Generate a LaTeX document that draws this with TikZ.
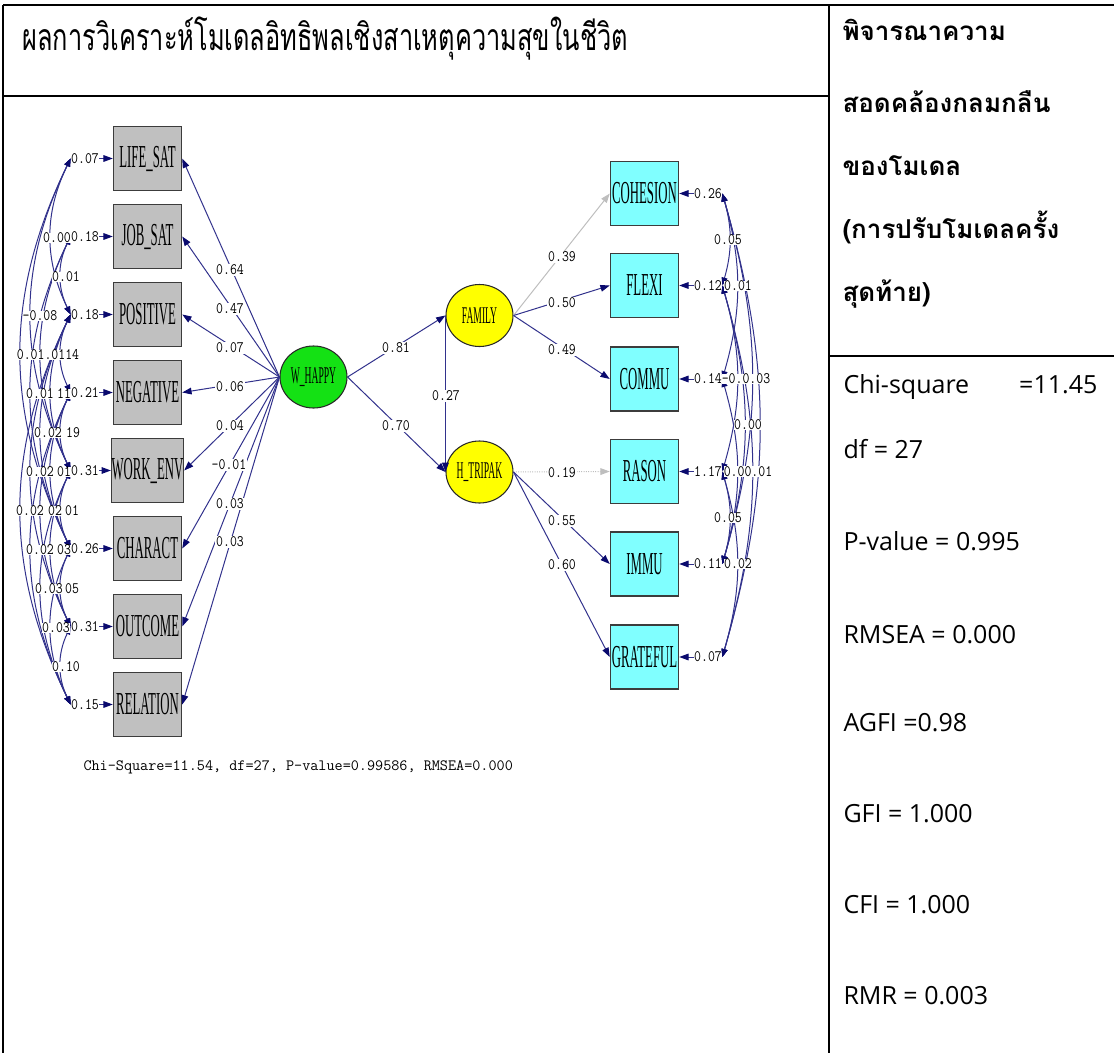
\documentclass[tikz,border=0pt]{standalone}
\usepackage{fontspec}
\usepackage{graphicx}
\usetikzlibrary{arrows.meta,shapes.geometric}
\newfontfamily\thaifont[Script=Thai]{Loma}
\newfontfamily\statfont{Open Sans}
\newfontfamily\boxfont{Liberation Serif}
\newcommand{\squeeze}[1]{\scalebox{0.4}[1]{#1}}
\newcommand{\nsq}[1]{\scalebox{0.84}[1]{#1}}

\tikzset{every picture/.style={line width=0.75pt}}
\tikzset{
  tabline/.style={line width=1.5pt},
  obsgray/.style={draw={rgb,255:red,60;green,60;blue,60}, line width=1.1pt, fill={rgb,255:red,192;green,192;blue,192}, minimum width=51pt, minimum height=48pt, inner sep=0pt, font=\boxfont\fontsize{24}{24}\selectfont},
  obscyan/.style={obsgray, fill={rgb,255:red,128;green,255;blue,255}},
  latent/.style={ellipse, draw={rgb,255:red,40;green,40;blue,40}, line width=0.8pt, minimum width=50.25pt, minimum height=46.5pt, inner sep=0pt, font=\boxfont\fontsize{18}{18}\selectfont},
  load/.style={draw={rgb,255:red,50;green,50;blue,140}, -{Triangle[length=7pt,width=5pt,color={rgb,255:red,10;green,10;blue,110}]}},
  loadgray/.style={draw={rgb,255:red,190;green,190;blue,190}, -{Triangle[length=7pt,width=5pt]}},
  cov/.style={draw={rgb,255:red,50;green,50;blue,140}, {Triangle[length=6pt,width=4.5pt,color={rgb,255:red,10;green,10;blue,110}]}-{Triangle[length=6pt,width=4.5pt,color={rgb,255:red,10;green,10;blue,110}]}},
  errl/.style={font=\ttfamily\fontsize{12}{12}\selectfont, inner sep=0pt},
  coef/.style={font=\ttfamily\fontsize{12}{12}\selectfont, fill=white, inner sep=0.5pt},
  covl/.style={font=\ttfamily\fontsize{12}{12}\selectfont, fill=white, inner sep=0pt},
  hdr/.style={anchor=base west, font=\thaifont\bfseries\fontsize{19.5}{19.5}\selectfont, inner sep=0pt},
  stat/.style={anchor=base west, font=\statfont\fontsize{18.75}{18.75}\selectfont, inner sep=0pt}
}

\begin{document}
\begin{tikzpicture}[x=0.75pt,y=0.75pt,yscale=-1,xscale=1]
\useasboundingbox (0,0) rectangle (1114,1053);

%Table frame
\draw[tabline] (3,5) -- (1114,5) ;
\draw[tabline] (3,5) -- (3,1053) ;
\draw[tabline] (3,96) -- (829,96) ;
\draw[tabline] (829,5) -- (829,1053) ;
\draw[tabline] (829,356) -- (1114,356) ;

% Text Node
\node[anchor=base west, inner sep=0pt, font=\thaifont\fontsize{28}{28}\selectfont] (title) at (22,50) {\scalebox{0.68}[1]{ผลการวิเคราะห์โมเดลอิทธิพลเชิงสาเหตุความสุขในชีวิต}};

% Text Node
\node[hdr] (h1) at (842,40) {พิจารณาความ};
\node[hdr] (h2) at (842,112) {สอดคล้องกลมกลืน};
\node[hdr] (h3) at (842,175) {ของโมเดล};
\node[hdr] (h4) at (842,238) {(การปรับโมเดลครั้ง};
\node[hdr] (h5) at (842,301) {สุดท้าย)};

% Text Node
\node[stat] (s1) at (843,393) {Chi-square\hspace{2em}=11.45};
\node[stat] (s2) at (843,458) {df = 27};
\node[stat] (s3) at (843,550) {P-value = 0.995};
\node[stat] (s4) at (843,643) {RMSEA = 0.000};
\node[stat] (s5) at (843,731) {AGFI =0.98};
\node[stat] (s6) at (843,822) {GFI = 1.000};
\node[stat] (s7) at (843,913) {CFI = 1.000};
\node[stat] (s8) at (843,1004) {RMR = 0.003};

%Shape: Rectangle
\node[obsgray] (LIFE) at (147.5,158.5) {\squeeze{LIFE\_SAT}};
\node[obsgray] (JOB) at (147.5,236.5) {\squeeze{JOB\_SAT}};
\node[obsgray] (POS) at (147.5,314.5) {\squeeze{POSITIVE}};
\node[obsgray] (NEG) at (147.5,392.5) {\squeeze{NEGATIVE}};
\node[obsgray] (WORK) at (147.5,470.5) {\squeeze{WORK\_ENV}};
\node[obsgray] (CHAR) at (147.5,548.5) {\squeeze{CHARACT}};
\node[obsgray] (OUT) at (147.5,626.5) {\squeeze{OUTCOME}};
\node[obsgray] (REL) at (147.5,704.5) {\squeeze{RELATION}};

%Shape: Rectangle
\node[obscyan] (COH) at (644.5,193.5) {\squeeze{COHESION}};
\node[obscyan] (FLEX) at (644.5,285.5) {\squeeze{FLEXI}};
\node[obscyan] (COMM) at (644.5,379) {\squeeze{COMMU}};
\node[obscyan] (RAS) at (644.5,471.5) {\squeeze{RASON}};
\node[obscyan] (IMM) at (644.5,564) {\squeeze{IMMU}};
\node[obscyan] (GRAT) at (644.5,657) {\squeeze{GRATEFUL}};

%Shape: Ellipse
\node[latent, fill={rgb,255:red,20;green,225;blue,20}] (WH) at (313.5,377) {\squeeze{W\_HAPPY}};
\node[latent, fill={rgb,255:red,255;green,255;blue,0}] (FAM) at (479.5,315.5) {\squeeze{FAMILY}};
\node[latent, fill={rgb,255:red,255;green,255;blue,0}] (HT) at (479.5,472) {\squeeze{H\_TRIPAK}};

% Error terms
\node[errl] (uL1) at (85,158.5) {\nsq{0.07}};
\node[errl] (uL2) at (85,236.5) {\nsq{0.18}};
\node[errl] (uL3) at (85,314.5) {\nsq{0.18}};
\node[errl] (uL4) at (85,392.5) {\nsq{0.21}};
\node[errl] (uL5) at (85,470.5) {\nsq{0.31}};
\node[errl] (uL6) at (85,548.5) {\nsq{0.26}};
\node[errl] (uL7) at (85,626.5) {\nsq{0.31}};
\node[errl] (uL8) at (85,704.5) {\nsq{0.15}};
\node[errl] (uR1) at (708,193.5) {\nsq{0.26}};
\node[errl] (uR2) at (708,285.5) {\nsq{0.12}};
\node[errl] (uR3) at (708,379) {\nsq{0.14}};
\node[errl] (uR4) at (708,471.5) {\nsq{1.17}};
\node[errl] (uR5) at (708,564) {\nsq{0.11}};
\node[errl] (uR6) at (708,657) {\nsq{0.07}};

\draw[load] (uL1.east) -- (LIFE.west) ;
\draw[load] (uL2.east) -- (JOB.west) ;
\draw[load] (uL3.east) -- (POS.west) ;
\draw[load] (uL4.east) -- (NEG.west) ;
\draw[load] (uL5.east) -- (WORK.west) ;
\draw[load] (uL6.east) -- (CHAR.west) ;
\draw[load] (uL7.east) -- (OUT.west) ;
\draw[load] (uL8.east) -- (REL.west) ;
\draw[load] (uR1.west) -- (COH.east) ;
\draw[load] (uR2.west) -- (FLEX.east) ;
\draw[load] (uR3.west) -- (COMM.east) ;
\draw[load] (uR4.west) -- (RAS.east) ;
\draw[load] (uR5.west) -- (IMM.east) ;
\draw[load] (uR6.west) -- (GRAT.east) ;

%Covariances, left
\draw[cov] (uL1.west) to[bend left=26] (uL3.west) ;
\draw[cov] (uL2.west) to[bend left=26] (uL3.west) ;
\draw[cov] (uL1.west) to[bend left=26] (uL5.west) ;
\draw[cov] (uL1.west) to[bend left=26] (uL6.west) ;
\draw[cov] (uL2.west) to[bend left=26] (uL5.west) ;
\draw[cov] (uL3.west) to[bend left=26] (uL4.west) ;
\draw[cov] (uL2.west) to[bend left=26] (uL6.west) ;
\draw[cov] (uL3.west) to[bend left=26] (uL5.west) ;
\draw[cov] (uL3.west) to[bend left=26] (uL6.west) ;
\draw[cov] (uL4.west) to[bend left=26] (uL5.west) ;
\draw[cov] (uL3.west) to[bend left=26] (uL7.west) ;
\draw[cov] (uL4.west) to[bend left=26] (uL6.west) ;
\draw[cov] (uL3.west) to[bend left=26] (uL8.west) ;
\draw[cov] (uL4.west) to[bend left=26] (uL7.west) ;
\draw[cov] (uL5.west) to[bend left=26] (uL6.west) ;
\draw[cov] (uL4.west) to[bend left=26] (uL8.west) ;
\draw[cov] (uL5.west) to[bend left=26] (uL7.west) ;
\draw[cov] (uL5.west) to[bend left=26] (uL8.west) ;
\draw[cov] (uL6.west) to[bend left=26] (uL7.west) ;
\draw[cov] (uL6.west) to[bend left=26] (uL8.west) ;
\draw[cov] (uL7.west) to[bend left=26] (uL8.west) ;

%Covariances, right
\draw[cov] (uR1.east) to[bend right=16] (uR2.east) ;
\draw[cov] (uR1.east) to[bend right=16] (uR3.east) ;
\draw[cov] (uR2.east) to[bend right=16] (uR4.east) ;
\draw[cov] (uR1.east) to[bend right=16] (uR5.east) ;
\draw[cov] (uR2.east) to[bend right=16] (uR5.east) ;
\draw[cov] (uR1.east) to[bend right=16] (uR6.east) ;
\draw[cov] (uR3.east) to[bend right=16] (uR5.east) ;
\draw[cov] (uR2.east) to[bend right=16] (uR6.east) ;
\draw[cov] (uR4.east) to[bend right=16] (uR5.east) ;
\draw[cov] (uR4.east) to[bend right=16] (uR6.east) ;

% Text Node
\node[covl] (kL1) at (57,238) {\nsq{0.00}};
\node[covl] (kL2) at (66,277) {\nsq{0.01}};
\node[covl] (kL3) at (40,316) {\nsq{-0.08}};
\node[covl] (kL4) at (48,355) {\nsq{0.01.0114}};
\node[covl] (kL5) at (40,394) {\nsq{0.01}};
\node[covl] (kL6) at (64,394) {\nsq{11}};
\node[covl] (kL7) at (48,433) {\nsq{0.02}};
\node[covl] (kL8) at (73,433) {\nsq{19}};
\node[covl] (kL9) at (40,472) {\nsq{0.02}};
\node[covl] (kL10) at (64,472) {\nsq{01}};
\node[covl] (kL11) at (30,511) {\nsq{0.02}};
\node[covl] (kL12) at (55,511) {\nsq{02}};
\node[covl] (kL13) at (72,511) {\nsq{01}};
\node[covl] (kL14) at (40,550) {\nsq{0.02}};
\node[covl] (kL15) at (64,550) {\nsq{03}};
\node[covl] (kL16) at (49,589) {\nsq{0.03}};
\node[covl] (kL17) at (72,589) {\nsq{05}};
\node[covl] (kL18) at (56,628) {\nsq{0.03}};
\node[covl] (kL19) at (66,667) {\nsq{0.10}};

% Text Node
\node[covl] (kR1) at (728,240) {\nsq{0.05}};
\node[covl] (kR2) at (738,286) {\nsq{0.01}};
\node[covl] (kR3) at (746,379) {\nsq{-0.0.03}};
\node[covl] (kR4) at (748,425) {\nsq{0.00}};
\node[covl] (kR5) at (748,471.5) {\nsq{0.00.01}};
\node[covl] (kR6) at (728,518) {\nsq{0.05}};
\node[covl] (kR7) at (738,564) {\nsq{0.02}};

%Loadings W_HAPPY
\draw[load] (WH.west) -- (LIFE.east) ;
\draw[load] (WH.west) -- (JOB.east) ;
\draw[load] (WH.west) -- (POS.east) ;
\draw[load] (WH.west) -- (NEG.east) ;
\draw[load] (WH.west) -- (WORK.east) ;
\draw[load] (WH.west) -- (CHAR.east) ;
\draw[load] (WH.west) -- (OUT.east) ;
\draw[load] (WH.west) -- (REL.east) ;

% Text Node
\node[coef] (c1) at (230,270) {\nsq{0.64}};
\node[coef] (c2) at (230,309) {\nsq{0.47}};
\node[coef] (c3) at (230,348) {\nsq{0.07}};
\node[coef] (c4) at (230,387) {\nsq{0.06}};
\node[coef] (c5) at (230,426) {\nsq{0.04}};
\node[coef] (c6) at (229,465) {\nsq{-0.01}};
\node[coef] (c7) at (230,504) {\nsq{0.03}};
\node[coef] (c8) at (230,542) {\nsq{0.03}};

%Structural paths
\draw[load] (WH.east) -- (FAM.west) ;
\draw[load] (WH.east) -- (HT.west) ;
\draw[load] (FAM.west) -- (HT.west) ;
\node[coef] (b1) at (396,348) {\nsq{0.81}};
\node[coef] (b2) at (396,426) {\nsq{0.70}};
\node[coef] (b3) at (446,396) {\nsq{0.27}};

%Loadings FAMILY and H_TRIPAK
\draw[loadgray] (FAM.east) -- (COH.west) ;
\draw[load] (FAM.east) -- (FLEX.west) ;
\draw[load] (FAM.east) -- (COMM.west) ;
\draw[loadgray, densely dotted] (HT.east) -- (RAS.west) ;
\draw[load] (HT.east) -- (IMM.west) ;
\draw[load] (HT.east) -- (GRAT.west) ;
\node[coef] (f1) at (562,257) {\nsq{0.39}};
\node[coef] (f2) at (562,303) {\nsq{0.50}};
\node[coef] (f3) at (562,350) {\nsq{0.49}};
\node[coef] (t1) at (562,473) {\nsq{0.19}};
\node[coef] (t2) at (562,521) {\nsq{0.55}};
\node[coef] (t3) at (562,565) {\nsq{0.60}};

% Text Node
\node[anchor=west, inner sep=0pt, font=\ttfamily\fontsize{11.8}{11.8}\selectfont] (chisq) at (83,767) {Chi-Square=11.54, df=27, P-value=0.99586, RMSEA=0.000};

\end{tikzpicture}
\end{document}
